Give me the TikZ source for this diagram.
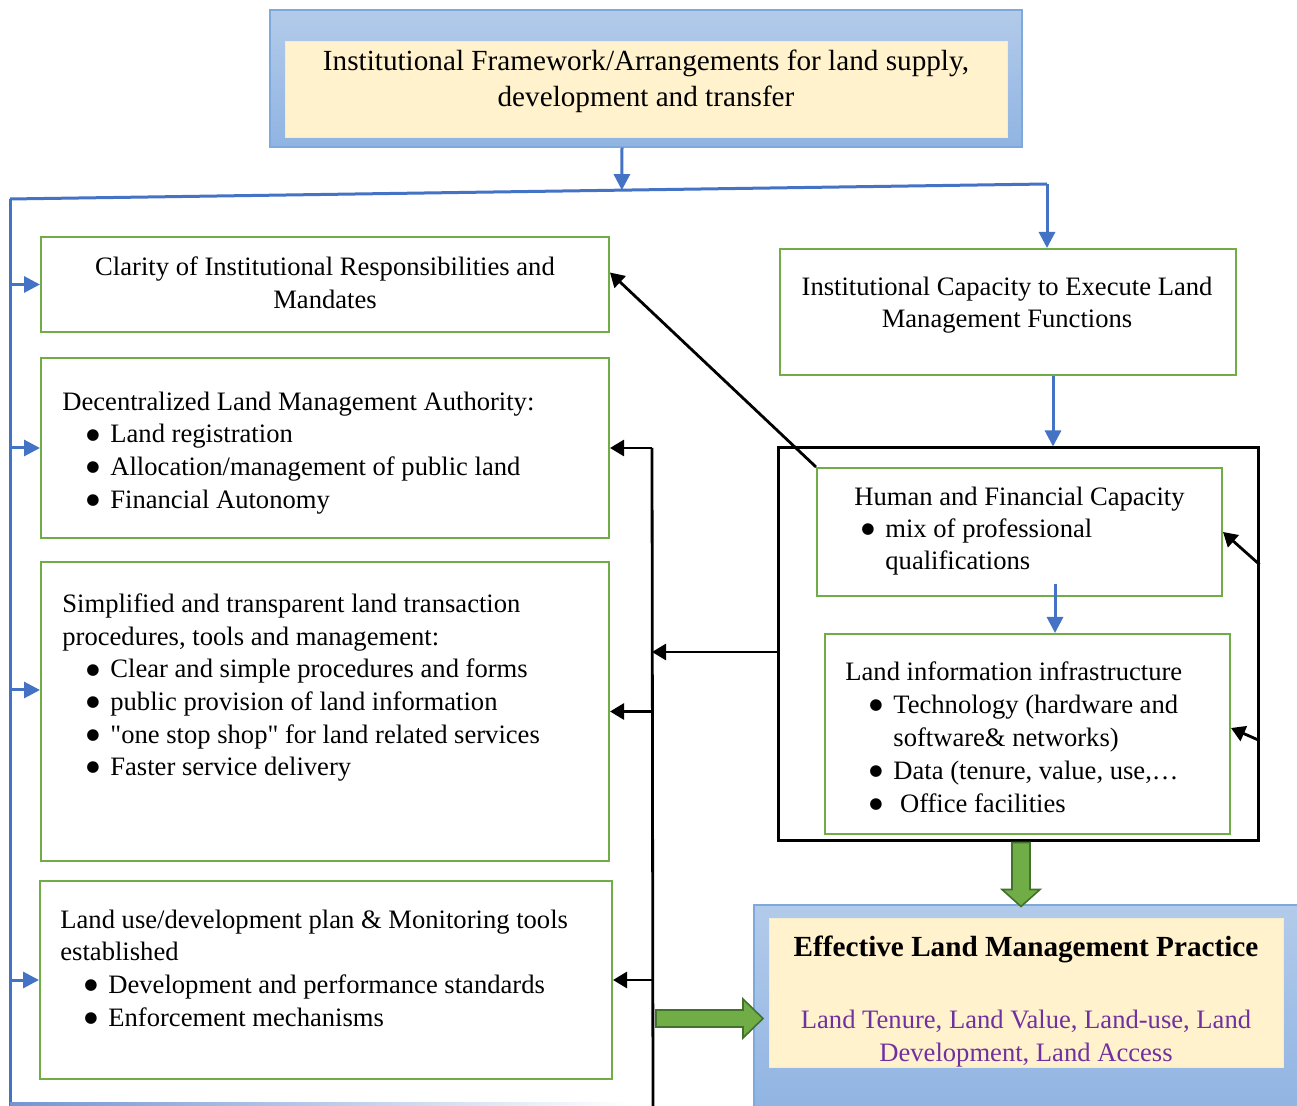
\documentclass[tikz,border=0pt]{standalone}
\usepackage{fontspec}
\setmainfont{Liberation Serif}[Ligatures=TeXOff]
\newfontfamily\dotfont{DejaVu Sans}
\usetikzlibrary{positioning,arrows.meta,calc}

\definecolor{lineblue}{HTML}{4472C4}
\definecolor{boxgreen}{HTML}{70AD47}
\definecolor{darkgreen}{HTML}{41712A}
\definecolor{paleyellow}{HTML}{FFF2CC}
\definecolor{skytop}{HTML}{B3CBEA}
\definecolor{skybot}{HTML}{90B4E2}
\definecolor{skyedge}{HTML}{7FA8DC}
\definecolor{practice}{HTML}{7030A0}

% bullet with its indent
\newcommand{\bul}[1][12pt]{\hspace*{#1}\makebox[12pt][l]{\raisebox{1.9pt}{\dotfont\fontsize{7.6}{7.6}\selectfont ●}}}

\begin{document}
\begin{tikzpicture}[x=0.5pt, y=-0.5pt,
    gbox/.style={draw=boxgreen, line width=1pt, inner sep=0pt},
    skybox/.style={draw=skyedge, line width=0.6pt, top color=skytop, bottom color=skybot, inner sep=0pt},
    ybox/.style={fill=paleyellow, draw=paleyellow!85!skytop, line width=0.4pt, inner sep=0pt},
    txt/.style={inner sep=0pt, font=\fontsize{13.3}{16.3}\selectfont},
    bline/.style={draw=lineblue, line width=1.5pt},
    barrow/.style={bline, -{Triangle[width=8pt,length=8pt]}},
    bkline/.style={draw=black, line width=1.4pt},
    karrow/.style={draw=black, line width=1.4pt, -{Triangle[width=8pt,length=7pt]}},
    fatarrow/.style={fill=boxgreen, draw=darkgreen, line width=0.8pt, line join=miter}]

    \useasboundingbox (0,0) rectangle (1297,1106);

    % top framework box
    \node[skybox, minimum width=376pt, minimum height=68.5pt] (frameworkout) at (646,78.5) {};
    \node[ybox, minimum width=361pt, minimum height=48pt] (frameworkin) at (646,89) {};
    \node[txt, font=\fontsize{14.6}{18}\selectfont, align=center] (frameworktxt) at (646,81.5)
        {Institutional Framework/Arrangements for land supply,\\development and transfer};

    % left column
    \node[gbox, minimum width=284pt, minimum height=47.5pt] (clarity) at (325,284.5) {};
    \node[txt, align=center] (claritytxt) at (325,282.5)
        {Clarity of Institutional Responsibilities and\\Mandates};

    \node[gbox, minimum width=284pt, minimum height=90pt] (decentral) at (325,448) {};
    \node[txt, align=left, anchor=north west] (decentraltxt) at (62,391.5)
        {Decentralized Land Management Authority:\\
         \bul Land registration\\
         \bul Allocation/management of public land\\
         \bul Financial Autonomy};

    \node[gbox, minimum width=284pt, minimum height=149.5pt] (transact) at (325,711.5) {};
    \node[txt, align=left, anchor=north west] (transacttxt) at (62,593.5)
        {Simplified and transparent land transaction\\
         procedures, tools and management:\\
         \bul Clear and simple procedures and forms\\
         \bul public provision of land information\\
         \bul "one stop shop" for land related services\\
         \bul Faster service delivery};

    \node[gbox, minimum width=286pt, minimum height=99pt] (landuse) at (326,980) {};
    \node[txt, align=left, anchor=north west] (landusetxt) at (60,909.5)
        {Land use/development plan \& Monitoring tools\\
         established\\
         \bul Development and performance standards\\
         \bul Enforcement mechanisms};

    % right column
    \node[gbox, minimum width=228pt, minimum height=63pt] (capacity) at (1008,312) {};
    \node[txt, align=center] (capacitytxt) at (1007,305)
        {Institutional Capacity to Execute Land\\Management Functions};

    \node[draw, line width=1.5pt, minimum width=240pt, minimum height=196.5pt, inner sep=0pt] (frame) at (1018,644.5) {};

    \node[gbox, minimum width=202.5pt, minimum height=64pt] (human) at (1019.5,532) {};
    \node[txt, font=\fontsize{13.3}{15.8}\selectfont, align=left, anchor=north west] (humantxt) at (854,487)
        {Human and Financial Capacity\\
         \bul[3.5pt]mix of professional\\
         \hspace*{15.5pt}qualifications};

    \node[gbox, minimum width=202.5pt, minimum height=100pt] (landinfo) at (1027.5,734) {};
    \node[txt, font=\fontsize{13.3}{16.5}\selectfont, align=left, anchor=north west] (landinfotxt) at (845,661.5)
        {Land information infrastructure\\
         \bul Technology (hardware and\\
         \hspace*{24pt}software\& networks)\\
         \bul Data (tenure, value, use,…\\
         \bul \ Office facilities};

    % outcome box
    \node[skybox, minimum width=273pt, minimum height=102.5pt] (practiceout) at (1027,1007.5) {};
    \node[ybox, minimum width=257pt, minimum height=74.5pt] (practicein) at (1026,992.5) {};
    \node[txt, font=\bfseries\fontsize{14.6}{18}\selectfont] (practicetitle) at (1026,949)
        {Effective Land Management Practice};
    \node[txt, align=center, text=practice, font=\fontsize{13.3}{16.5}\selectfont] (practicetxt) at (1026,1038.5)
        {Land Tenure, Land Value, Land-use, Land\\Development, Land Access};

    % blue distribution lines
    \coordinate (barL) at (10,199);
    \coordinate (barR) at (1047,184);
    \coordinate (barB) at (10,1106);
    \draw[bline] (barL) -- (barR);
    \draw[bline] (barL) -- (barB);
    \shade[left color=lineblue!75, right color=white] (10,1102.5) rectangle (630,1105.5);
    \draw[barrow] ([xshift=-12pt]frameworkout.south) -- ($(barL)!0.59!(barR)$);
    \draw[barrow] (barR) -- (barR |- capacity.north);
    \foreach \b in {clarity,decentral,landuse}
        \draw[barrow] (barL |- \b.west) -- (\b.west);
    \coordinate (transactin) at ([yshift=10.75pt]transact.west);
    \draw[barrow] (barL |- transactin) -- (transactin);

    \draw[barrow] ([xshift=22.5pt]capacity.south) -- ([xshift=17.5pt]frame.north);
    \draw[barrow] ([xshift=17.75pt,yshift=6.5pt]human.south) -- ([xshift=13.75pt]landinfo.north);

    % black feedback lines
    \coordinate (spineT) at (652,448);
    \coordinate (spineB) at (653,1106);
    \draw[bkline] (spineT) -- (spineB);
    \draw[karrow] (spineT) -- (decentral.east);
    \draw[karrow] (spineT |- transact.east) -- (transact.east);
    \draw[karrow] (spineT |- landuse.east) -- (landuse.east);
    \coordinate (framewest) at ([yshift=-3.75pt]frame.west);
    \draw[karrow] (framewest) -- (spineT |- framewest);
    \draw[karrow] (human.north west) -- ([yshift=6pt]clarity.east);
    \draw[karrow] ([yshift=40pt]frame.east) -- (human.east);
    \draw[karrow] ([yshift=-48pt]frame.east) -- ([yshift=3pt]landinfo.east);

    % green block arrows
    \draw[fatarrow] ([xshift=1.5pt]frame.south) ++(-9,0) -- ++(0,47) -- ++(-10,0) -- ++(19,17)
        -- ++(19,-17) -- ++(-10,0) -- ++(0,-47) -- cycle;
    \coordinate (fatstart) at (656,1018.5);
    \draw[fatarrow] (fatstart) ++(0,-8.5) -- ++(87,0) -- ++(0,-11) -- ++(20,19.5)
        -- ++(-20,19.5) -- ++(0,-11) -- ++(-87,0) -- cycle;
\end{tikzpicture}
\end{document}
